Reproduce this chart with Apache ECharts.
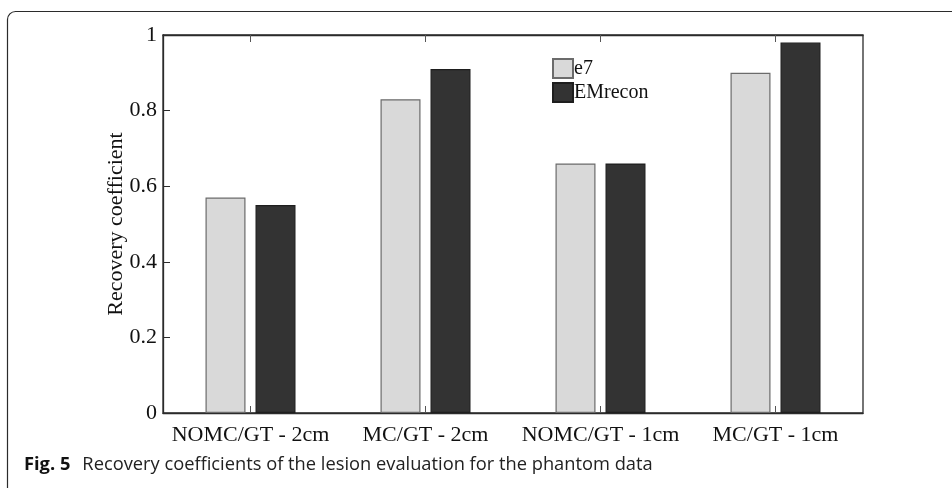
<!DOCTYPE html>
<html>
<head>
<meta charset="utf-8">
<style>html,body{margin:0;padding:0;background:#fff;}#c{width:952px;height:488px;}</style>
<script src="https://cdn.jsdelivr.net/npm/echarts@6/dist/echarts.min.js"></script>
</head>
<body>
<div id="c"></div>
<script>
var categories = ['NOMC/GT - 2cm', 'MC/GT - 2cm', 'NOMC/GT - 1cm', 'MC/GT - 1cm'];
var e7Values = [0.57, 0.83, 0.66, 0.90];
var emreconValues = [0.55, 0.91, 0.66, 0.98];
var seriesNames = ['e7', 'EMrecon'];

var serif = '"Liberation Serif", "DejaVu Serif", serif';
var sans = '"Open Sans", "Noto Sans", sans-serif';
var chart = echarts.init(document.getElementById('c'), null, {renderer: 'canvas'});
var lineCol = '#2b2b2b';
chart.setOption({
  animation: false,
  backgroundColor: '#fff',
  grid: {left: 163, right: 89, top: 35, bottom: 75, containLabel: false,
    show: true, borderColor: lineCol, borderWidth: 1.3, backgroundColor: 'transparent'},
  legend: {
    orient: 'vertical', left: 547, top: 53,
    icon: 'rect', itemWidth: 20, itemHeight: 19, itemGap: 3,
    textStyle: {fontFamily: serif, fontSize: 20, lineHeight: 19, color: '#111', padding: [0, 0, 0, -4]},
    data: seriesNames
  },
  xAxis: [{
    type: 'category', data: categories, position: 'bottom', gridIndex: 0,
    axisLine: {show: true, onZero: false, lineStyle: {color: lineCol, width: 1.3}},
    axisTick: {show: true, inside: true, alignWithLabel: true, interval: 0, length: 7, lineStyle: {color: '#555'}},
    axisLabel: {fontFamily: serif, fontSize: 22, color: '#111', margin: 11, interval: 0}
  }, {
    type: 'category', data: categories, position: 'top', gridIndex: 0,
    axisLine: {show: true, onZero: false, lineStyle: {color: lineCol, width: 1.3}},
    axisTick: {show: true, inside: false, alignWithLabel: true, interval: 0, length: -7, lineStyle: {color: '#555'}},
    axisLabel: {show: false}
  }],
  yAxis: [{
    type: 'value', min: 0, max: 1, interval: 0.2,
    name: 'Recovery coefficient', nameLocation: 'middle', nameGap: 36, nameRotate: 90,
    nameMoveOverlap: false,
    nameTextStyle: {fontFamily: serif, fontSize: 22, color: '#111'},
    axisLine: {show: true, lineStyle: {color: lineCol, width: 1.3}},
    axisTick: {show: true, inside: true, length: 7, lineStyle: {color: lineCol}},
    axisLabel: {fontFamily: serif, fontSize: 22, color: '#111', margin: 6,
      formatter: function (v) { return String(Math.round(v * 10) / 10); }},
    splitLine: {show: false}
  }],
  series: [{
    name: seriesNames[0], type: 'bar', data: e7Values, barWidth: 40, barGap: '25%',
    xAxisIndex: 0, yAxisIndex: 0,
    itemStyle: {color: '#d9d9d9', borderColor: '#6b6b6b', borderWidth: 1.2}
  }, {
    name: seriesNames[1], type: 'bar', data: emreconValues, barWidth: 40, barGap: '25%',
    xAxisIndex: 0, yAxisIndex: 0,
    itemStyle: {color: '#333333', borderColor: '#1e1e1e', borderWidth: 1.2}
  }],
  graphic: [{
    type: 'rect', silent: true, z: -1,
    shape: {x: 7.5, y: 11.5, width: 1100, height: 700, r: 8},
    style: {fill: null, stroke: '#2b2b2b', lineWidth: 1.2}
  }, {
    type: 'text', left: 24, top: 456,
    style: {
      text: '{b|Fig. 5}{n|Recovery coefficients of the lesion evaluation for the phantom data}',
      rich: {
        b: {fontFamily: sans, fontWeight: 'bold', fontSize: 18.3, fill: '#111', padding: [0, 12, 0, 0]},
        n: {fontFamily: sans, fontSize: 18.3, fill: '#222'}
      }
    }
  }]
});
</script>
</body>
</html>
